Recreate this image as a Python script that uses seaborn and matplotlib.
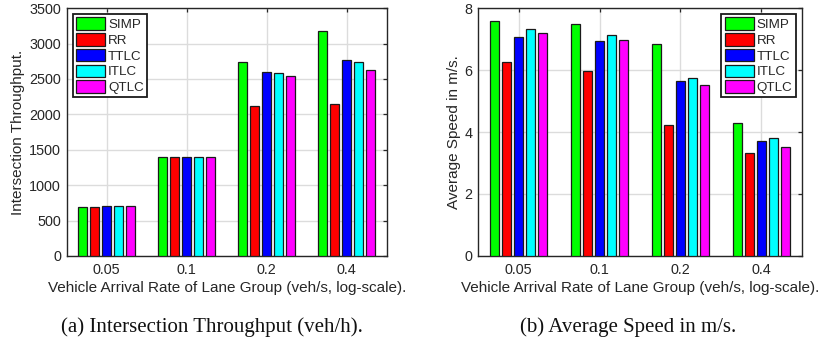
import numpy as np
import pandas as pd
import matplotlib
matplotlib.use("Agg")
import matplotlib.pyplot as plt
import seaborn as sns

# data
rates = ["0.05", "0.1", "0.2", "0.4"]
methods = ["SIMP", "RR", "TTLC", "ITLC", "QTLC"]
colors = ["#00ff00", "#ff0000", "#0000ff", "#00ffff", "#ff00ff"]

throughput = {
    "SIMP": [695, 1402, 2745, 3175],
    "RR":   [686, 1392, 2122, 2141],
    "TTLC": [712, 1397, 2603, 2764],
    "ITLC": [712, 1400, 2589, 2740],
    "QTLC": [710, 1400, 2547, 2627],
}
speed = {
    "SIMP": [7.60, 7.49, 6.84, 4.28],
    "RR":   [6.25, 5.98, 4.22, 3.32],
    "TTLC": [7.08, 6.94, 5.66, 3.70],
    "ITLC": [7.32, 7.12, 5.74, 3.82],
    "QTLC": [7.19, 6.96, 5.53, 3.52],
}

xlabel = "Vehicle Arrival Rate of Lane Group (veh/s, log-scale)."
captions = ["(a) Intersection Throughput (veh/h).", "(b) Average Speed in m/s."]


def to_long(d):
    rows = []
    for m in methods:
        for r, v in zip(rates, d[m]):
            rows.append((r, m, v))
    return pd.DataFrame(rows, columns=["rate", "method", "value"])


sns.set_style("white")
plt.rcParams["font.family"] = ["Liberation Sans", "DejaVu Sans"]
txt = "#262626"

fig = plt.figure(figsize=(8.19, 3.39), dpi=100)
ax1 = fig.add_axes([0.0814, 0.245, 0.3907, 0.731])
ax2 = fig.add_axes([0.5840, 0.245, 0.3950, 0.731])


def draw(ax, d, ylabel, ylim, yticks, legend_loc):
    df = to_long(d)
    sns.barplot(data=df, x="rate", y="value", hue="method", order=rates,
                hue_order=methods, palette=colors, saturation=1, width=0.74,
                gap=0.24, edgecolor="#1a1a1a", linewidth=0.9, ax=ax, zorder=3)
    ax.set_xlim(-0.5, 3.5)
    ax.set_ylim(*ylim)
    ax.set_yticks(yticks)
    ax.set_xlabel(xlabel, fontsize=11, color=txt, labelpad=3)
    ax.set_ylabel(ylabel, fontsize=11, color=txt, labelpad=3)
    ax.grid(True, color="#dcdcdc", linewidth=1.0, zorder=0)
    ax.set_axisbelow(True)
    ax.tick_params(direction="in", top=True, right=True, length=3,
                   labelsize=10.4, colors=txt, width=0.9)
    ax.tick_params(axis="x", pad=5)
    ax.tick_params(axis="y", pad=4)
    for s in ax.spines.values():
        s.set_color(txt)
        s.set_linewidth(1.0)
    ax.legend(loc=legend_loc, fontsize=9.6, frameon=True, fancybox=False,
              edgecolor="#1a1a1a", framealpha=1, handlelength=2.2,
              handleheight=1.05, handletextpad=0.2, labelspacing=0.15,
              borderpad=0.25, borderaxespad=0.45)
    ax.get_legend().get_frame().set_linewidth(1.3)


draw(ax1, throughput, "Intersection Throughput.", (0, 3500),
     np.arange(0, 3501, 500), "upper left")
draw(ax2, speed, "Average Speed in m/s.", (0, 8), [0, 2, 4, 6, 8],
     "upper right")

fig.text(0.259, 0.036, captions[0], ha="center", va="center", fontsize=15,
         family="Liberation Serif", color="#111111")
fig.text(0.767, 0.036, captions[1], ha="center", va="center", fontsize=15,
         family="Liberation Serif", color="#111111")

fig.savefig("out.png", dpi=100)
